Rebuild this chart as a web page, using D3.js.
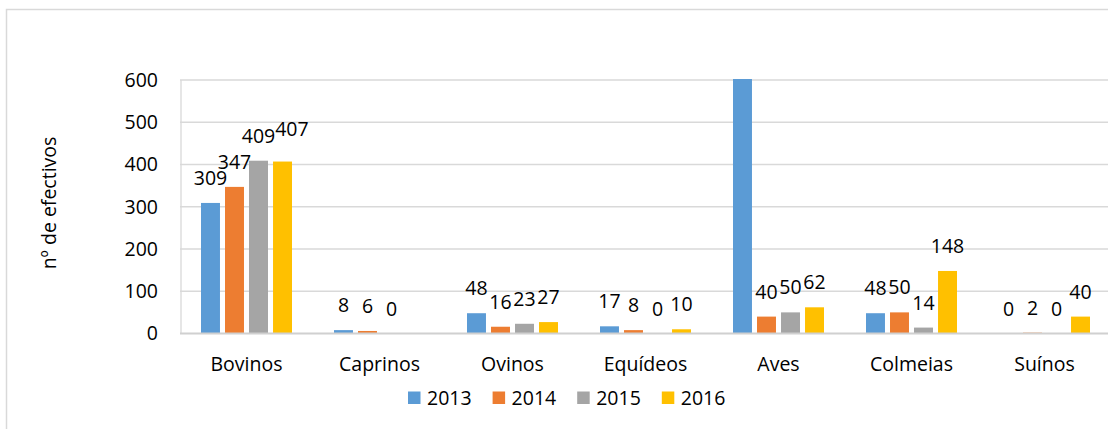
<!DOCTYPE html>
<html>
<head>
<meta charset="utf-8">
<script src="https://cdn.jsdelivr.net/npm/d3@7"></script>
<style>
  body { margin: 0; background: #fff; }
  svg text { font-family: 'Open Sans', sans-serif; fill: #000; }
</style>
</head>
<body>
<div id="chart"></div>
<script>
// chart data
var categories = ['Bovinos', 'Caprinos', 'Ovinos', 'Equídeos', 'Aves', 'Colmeias', 'Suínos']
var years = ['2013', '2014', '2015', '2016']
var values2013 = [309, 8, 48, 17, 1200, 48, 0]
var values2014 = [347, 6, 16, 8, 40, 50, 2]
var values2015 = [409, 0, 23, 0, 50, 14, 0]
var values2016 = [407, null, 27, 10, 62, 148, 40]
var yTicks = [0, 100, 200, 300, 400, 500, 600]
var colors = ['#5b9bd5', '#ed7d31', '#a5a5a5', '#ffc000']

var series = [values2013, values2014, values2015, values2016]

// layout
var width = 1108
var height = 429
var fontSize = 19.5
var capH = 14
var plot = { left: 180, right: 1111, top: 80, bottom: 333.5 }

var svg = d3.select('#chart')
  .append('svg')
  .attr('width', width)
  .attr('height', height)

// chart border (cropped on the right and bottom)
svg.append('rect')
  .attr('x', 6.5)
  .attr('y', 9.5)
  .attr('width', 1200)
  .attr('height', 500)
  .attr('fill', 'none')
  .attr('stroke', '#d9d9d9')
  .attr('stroke-width', 1.5)

// scales
var x0 = d3.scaleBand().domain(categories).range([plot.left, plot.right])
var groupW = 91
var x1 = d3.scaleBand()
  .domain(years)
  .range([(x0.bandwidth() - groupW) / 2, (x0.bandwidth() + groupW) / 2])
  .paddingInner(0.21)
var y = d3.scaleLinear().domain([0, 600]).range([plot.bottom, plot.top])

// gridlines
svg.append('g')
  .selectAll('line')
  .data(yTicks.filter(function (d) { return d > 0 }))
  .enter()
  .append('line')
  .attr('x1', plot.left)
  .attr('x2', width)
  .attr('y1', function (d) { return y(d) })
  .attr('y2', function (d) { return y(d) })
  .attr('stroke', '#d9d9d9')
  .attr('stroke-width', 1.3)

// vertical axis line
svg.append('line')
  .attr('x1', plot.left + 1)
  .attr('x2', plot.left + 1)
  .attr('y1', plot.top)
  .attr('y2', plot.bottom)
  .attr('stroke', '#d9d9d9')
  .attr('stroke-width', 1.3)

// y tick labels via axis
var yAxis = d3.axisLeft(y).tickValues(yTicks).tickSize(0).tickPadding(0)
var gy = svg.append('g')
  .attr('transform', 'translate(158,0)')
  .call(yAxis)
gy.select('.domain').remove()
gy.selectAll('text')
  .attr('font-size', fontSize)
  .attr('font-family', "'Open Sans', sans-serif")
  .attr('fill', '#000')

// y axis title
svg.append('text')
  .attr('transform', 'translate(49,203) rotate(-90)')
  .attr('text-anchor', 'middle')
  .attr('dy', '0.35em')
  .attr('font-size', fontSize)
  .text('nº de efectivos')

// clip for bars that exceed the axis max
svg.append('clipPath')
  .attr('id', 'plotClip')
  .append('rect')
  .attr('x', plot.left)
  .attr('y', plot.top - 1)
  .attr('width', plot.right - plot.left)
  .attr('height', plot.bottom - plot.top + 1)

// bars
var groups = svg.append('g')
  .attr('clip-path', 'url(#plotClip)')
  .selectAll('g')
  .data(categories)
  .enter()
  .append('g')
  .attr('transform', function (d) { return 'translate(' + x0(d) + ',0)' })

groups.selectAll('rect')
  .data(function (d, i) {
    return years.map(function (yr, j) { return { year: yr, value: series[j][i], color: colors[j] } })
  })
  .enter()
  .append('rect')
  .attr('x', function (d) { return x1(d.year) })
  .attr('width', x1.bandwidth())
  .attr('y', function (d) { return y(d.value || 0) })
  .attr('height', function (d) { return y(0) - y(d.value || 0) })
  .attr('fill', function (d) { return d.color })

// zero axis line
svg.append('line')
  .attr('x1', plot.left)
  .attr('x2', width)
  .attr('y1', plot.bottom)
  .attr('y2', plot.bottom)
  .attr('stroke', '#d0d0d0')
  .attr('stroke-width', 2)

// data labels (hidden when null or outside the axis range)
var labels = []
categories.forEach(function (c, i) {
  years.forEach(function (yr, j) {
    var v = series[j][i]
    if (v !== null && v <= 600) labels.push({ cat: c, year: yr, value: v })
  })
})
var labelSel = svg.append('g')
  .selectAll('text')
  .data(labels)
  .enter()
  .append('text')
  .attr('x', function (d) { return x0(d.cat) + x1(d.year) + x1.bandwidth() / 2 })
  .attr('y', function (d) { return y(d.value) - 18 })
  .attr('text-anchor', 'middle')
  .attr('font-size', fontSize)
  .text(function (d) { return d.value })

// nudge labels that collide with the previous one in the same group (like excel does)
var prev = null
labelSel.each(function (d) {
  var node = this
  var box = node.getBBox()
  var base = +node.getAttribute('y')
  if (prev && prev.d.cat === d.cat) {
    var overlapX = prev.box.x + prev.box.width - box.x
    var overlapY = capH - Math.abs(prev.base - base)
    if (overlapX > 0 && overlapY > 0) {
      base = base - 8
      d3.select(node)
        .attr('x', +node.getAttribute('x') + overlapX)
        .attr('y', base)
      box = node.getBBox()
    }
  }
  prev = { d: d, box: box, base: base }
})

// category labels
svg.append('g')
  .selectAll('text')
  .data(categories)
  .enter()
  .append('text')
  .attr('x', function (d) { return x0(d) + x0.bandwidth() / 2 })
  .attr('y', 364)
  .attr('dy', '0.35em')
  .attr('text-anchor', 'middle')
  .attr('font-size', fontSize)
  .text(function (d) { return d })

// legend
var legend = svg.append('g')
  .selectAll('g')
  .data(years)
  .enter()
  .append('g')
  .attr('transform', function (d, i) { return 'translate(' + (408 + i * 84.6) + ',391.5)' })
legend.append('rect')
  .attr('width', 12.5)
  .attr('height', 12.5)
  .attr('fill', function (d, i) { return colors[i] })
legend.append('text')
  .attr('x', 19)
  .attr('y', 6.5)
  .attr('dy', '0.35em')
  .attr('font-size', fontSize)
  .text(function (d) { return d })
</script>
</body>
</html>
